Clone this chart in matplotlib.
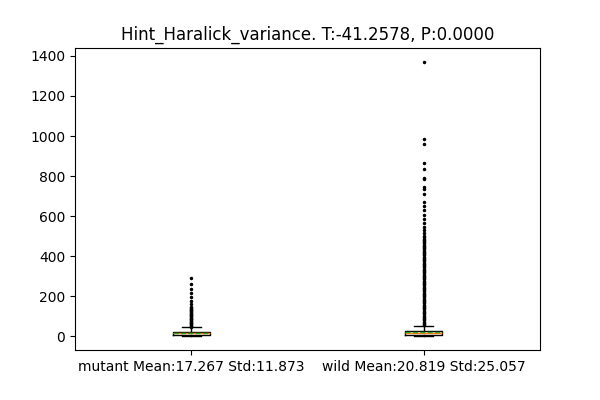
import matplotlib
matplotlib.use("Agg")
import matplotlib.pyplot as plt

title = "Hint_Haralick_variance. T:-41.2578, P:0.0000"
labels = ["mutant Mean:17.267 Std:11.873", "wild Mean:20.819 Std:25.057"]
medians = [16.0, 19.0]
q1s = [7.0, 9.0]
q3s = [24.0, 28.0]
means = [17.267, 20.819]
whis_lo = [0.3, 0.3]
whis_hi = [47.0, 54.0]

mutant_fliers = [49, 53, 57, 61, 65, 69, 73, 77, 81, 85, 89, 93, 97, 101, 105, 109,
                 113, 117, 121, 125, 129, 133, 137, 141, 146, 160, 178, 196,
                 217, 234, 261, 290]
wild_fliers = [56, 62, 68, 74, 80, 86, 92, 98, 104, 110, 116, 122, 128, 134, 140, 146,
               152, 158, 164, 170, 176, 182, 188, 194, 200, 206, 212, 218, 224, 230,
               236, 242, 248, 254, 260, 266, 272, 278, 284, 290, 296, 302, 308, 314,
               320, 326, 332, 338, 344, 350, 356, 362, 368, 374, 380, 386, 392, 398,
               404, 410, 416, 422, 428, 434, 440, 446, 452, 458, 464, 470, 476, 482,
               488, 494, 500, 515, 532, 548, 566, 587, 607, 629, 649, 672, 711,
               736, 746, 786, 791, 833, 863, 958, 987, 1371]
fliers = [mutant_fliers, wild_fliers]

stats = []
for i in range(2):
    stats.append(dict(med=medians[i], q1=q1s[i], q3=q3s[i], mean=means[i],
                      whislo=whis_lo[i], whishi=whis_hi[i], fliers=fliers[i],
                      label=labels[i]))

fig = plt.figure(figsize=(6, 4), dpi=100)
ax = fig.add_axes([0.125, 0.125, 0.775, 0.755])
ax.bxp(stats, positions=[1, 2], widths=0.16, showmeans=True, meanline=True,
       flierprops=dict(marker='o', markerfacecolor='black', markeredgecolor='black',
                       markersize=1.5, linestyle='none'))
ax.set_title(title)
fig.savefig("out.png", dpi=100)
